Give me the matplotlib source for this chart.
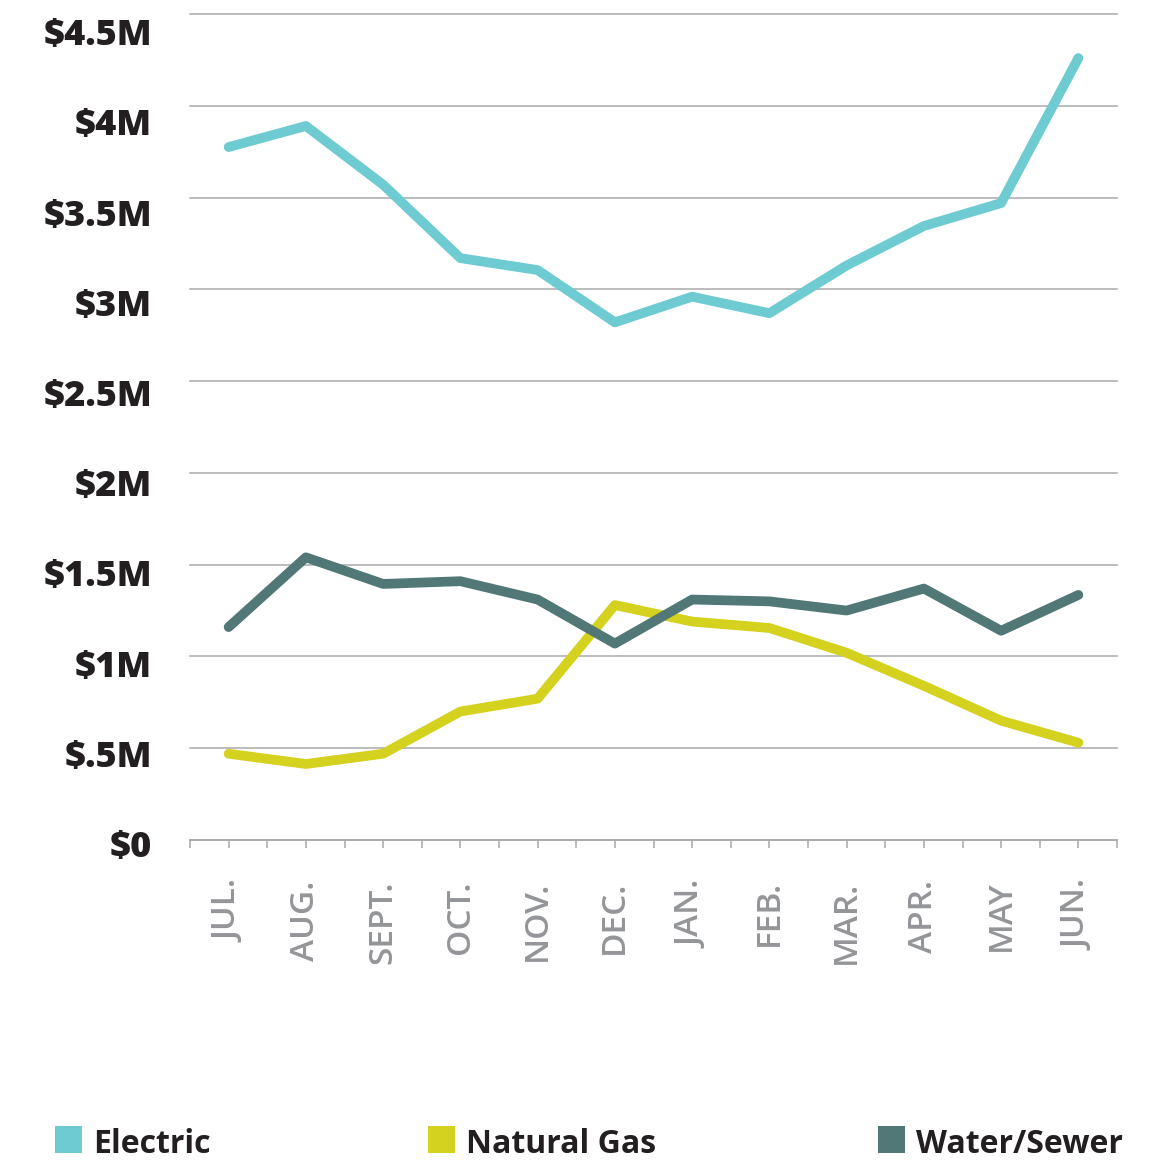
"""Monthly utility costs: Electric, Natural Gas, Water/Sewer."""
import matplotlib
matplotlib.use('Agg')
import matplotlib.pyplot as plt
import matplotlib.transforms as mtransforms
from matplotlib.patches import Rectangle

# --- Data (millions of $) ---
months = ['JUL.', 'AUG.', 'SEPT.', 'OCT.', 'NOV.', 'DEC.',
          'JAN.', 'FEB.', 'MAR.', 'APR.', 'MAY', 'JUN.']
electric = [3.775, 3.89, 3.57, 3.17, 3.105, 2.82, 2.96, 2.87, 3.13, 3.345, 3.47, 4.26]
natural_gas = [0.47, 0.414, 0.47, 0.70, 0.77, 1.28, 1.19, 1.155, 1.02, 0.84, 0.65, 0.53]
water_sewer = [1.16, 1.54, 1.395, 1.41, 1.31, 1.07, 1.31, 1.30, 1.25, 1.37, 1.14, 1.335]
y_ticks = [0, 0.5, 1, 1.5, 2, 2.5, 3, 3.5, 4, 4.5]
y_labels = ['$0', '$.5M', '$1M', '$1.5M', '$2M', '$2.5M', '$3M', '$3.5M', '$4M', '$4.5M']
series_names = ['Electric', 'Natural Gas', 'Water/Sewer']

# --- Palette ---
C_ELEC = '#6ecbd1'
C_GAS = '#d4d11f'
C_WATER = '#517876'
INK = '#231f20'
GREY_TXT = '#939598'
GRID = '#a7a9ac'

plt.rcParams['font.family'] = ['Open Sans', 'DejaVu Sans']

W, H = 1166, 1161
fig = plt.figure(figsize=(W / 100, H / 100), dpi=100)
ax = fig.add_axes([190 / W, 1 - 840 / H, (1117 - 190) / W, (840 - 14) / H])

x = list(range(len(months)))
for vals, col in [(electric, C_ELEC), (natural_gas, C_GAS), (water_sewer, C_WATER)]:
    ax.plot(x, vals, color=col, linewidth=7, solid_capstyle='round',
            solid_joinstyle='round', zorder=3)

ax.set_xlim(-0.5, len(months) - 0.5)
ax.set_ylim(0, 4.5)

# gridlines
ax.set_yticks(y_ticks)
ax.yaxis.grid(True, color=GRID, linewidth=1.1)
for gl in ax.get_ygridlines():
    gl.set_clip_on(False)
ax.tick_params(axis='y', length=0, labelleft=False)

for s in ['top', 'right', 'left']:
    ax.spines[s].set_visible(False)
ax.spines['bottom'].set_color(GRID)
ax.spines['bottom'].set_linewidth(1.1)

# x ticks at centres + boundaries
ax.set_xticks(x)
ax.set_xticks([i - 0.5 for i in range(len(months) + 1)], minor=True)
ax.set_xticklabels(months, rotation=90, fontsize=24, fontweight='semibold',
                   color=GREY_TXT, va='top', ha='center')
ax.tick_params(axis='x', which='both', length=6, width=1.1, color=GRID,
               direction='out', pad=23)

# y labels: spaced slightly tighter than the gridlines
blend = mtransforms.blended_transform_factory(fig.transFigure, ax.transData)
for k, (v, lab) in enumerate(zip(y_ticks, y_labels)):
    d = (8 + 1.58 * k) / 100.0
    tr = blend + mtransforms.ScaledTranslation(0, -d, fig.dpi_scale_trans)
    fig.text(152 / W, v, lab, transform=tr, ha='right', va='center',
             fontsize=26, fontweight=800, color=INK)

# legend
sq_top, sq_bot = 1126, 1153
sq = sq_bot - sq_top
for name, col, x0 in zip(series_names, [C_ELEC, C_GAS, C_WATER], [55, 428, 878]):
    fig.add_artist(Rectangle((x0 / W, 1 - sq_bot / H), sq / W, sq / H,
                             transform=fig.transFigure, facecolor=col,
                             edgecolor='none'))
    fig.text((x0 + sq + 11) / W, 1 - sq_bot / H, name, ha='left', va='baseline',
             fontsize=23, fontweight='bold', color=INK)

fig.savefig('out.png', dpi=100, facecolor='white')
